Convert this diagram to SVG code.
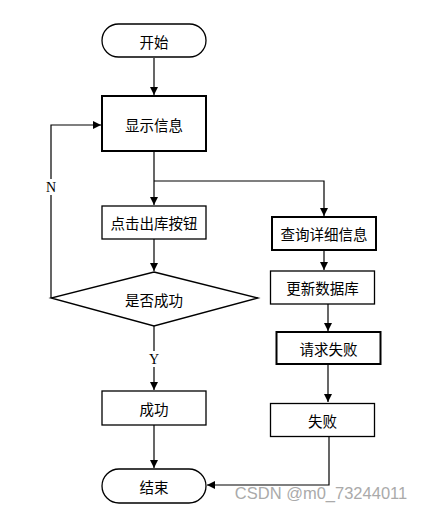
<svg xmlns="http://www.w3.org/2000/svg" width="424" height="511" viewBox="0 0 424 511">
<defs>
<marker id="arr" viewBox="0 0 10 10" refX="10" refY="5" markerWidth="8" markerHeight="8" markerUnits="userSpaceOnUse" orient="auto">
<path d="M0,0 L10,5 L0,10 z" fill="#000"/>
</marker>
</defs>
<style>
.box{fill:#fff;stroke:#000;stroke-width:1.3}
.thick{stroke-width:2}
.t{font-family:"Noto Sans CJK SC","Liberation Sans",sans-serif;font-size:14.5px;fill:#000;text-anchor:middle;dominant-baseline:central}
.lbl{font-family:"Liberation Serif",serif;font-size:14px;fill:#000;text-anchor:middle;dominant-baseline:central}
.c{fill:none;stroke:#000;stroke-width:1.2}
</style>
<rect width="424" height="511" fill="#fff"/>
<g id="connectors">
<path class="c" d="M154,58 V95" marker-end="url(#arr)"/>
<path class="c" d="M154,151 V205" marker-end="url(#arr)"/>
<path class="c" d="M154,181 H324 V216" stroke="#555" marker-end="url(#arr)"/>
<path class="c" d="M154,239 V271" marker-end="url(#arr)"/>
<path class="c" d="M51,298 V125 H101" marker-end="url(#arr)"/>
<path class="c" d="M154,326 V390" marker-end="url(#arr)"/>
<path class="c" d="M154,425 V468" marker-end="url(#arr)"/>
<path class="c" d="M324,250 V270" marker-end="url(#arr)"/>
<path class="c" d="M328,304 V331" marker-end="url(#arr)"/>
<path class="c" d="M328,364 V402" marker-end="url(#arr)"/>
<path class="c" d="M329,437 V485 H207" marker-end="url(#arr)"/>
<rect x="44" y="179" width="14" height="16" fill="#fff"/>
<text class="lbl" x="51" y="187">N</text>
<rect x="147" y="351" width="14" height="16" fill="#fff"/>
<text class="lbl" x="154" y="359">Y</text>
</g>
<g id="start">
<rect class="box" x="102" y="24" width="104" height="33" rx="16.5"/>
<text class="t" x="154" y="41">开始</text>
</g>
<g id="show">
<rect class="box thick" x="102" y="96" width="104" height="55"/>
<text class="t" x="154" y="124">显示信息</text>
</g>
<g id="click">
<rect class="box" x="102" y="206" width="104" height="33"/>
<text class="t" x="154" y="222">点击出库按钮</text>
</g>
<g id="decision">
<polygon class="box" points="154,272 258,298 154,326 51,298"/>
<text class="t" x="154" y="299">是否成功</text>
</g>
<g id="success">
<rect class="box" x="102" y="391" width="104" height="34"/>
<text class="t" x="154" y="408">成功</text>
</g>
<g id="end">
<rect class="box" x="102" y="469" width="104" height="34" rx="17"/>
<text class="t" x="154" y="486">结束</text>
</g>
<g id="query">
<rect class="box thick" x="272" y="217" width="104" height="33"/>
<text class="t" x="324" y="233.5">查询详细信息</text>
</g>
<g id="update">
<rect class="box" x="270.5" y="271" width="104" height="33"/>
<text class="t" x="322.5" y="287.5">更新数据库</text>
</g>
<g id="request">
<rect class="box thick" x="276.5" y="332" width="104" height="32"/>
<text class="t" x="328.5" y="348">请求失败</text>
</g>
<g id="fail">
<rect class="box" x="270.5" y="403.5" width="104" height="33"/>
<text class="t" x="322.5" y="420">失败</text>
</g>
<text x="321" y="493" font-family="Liberation Sans,sans-serif" font-size="16.5" fill="#aaa" text-anchor="middle" dominant-baseline="central">CSDN @m0_73244011</text>
</svg>
